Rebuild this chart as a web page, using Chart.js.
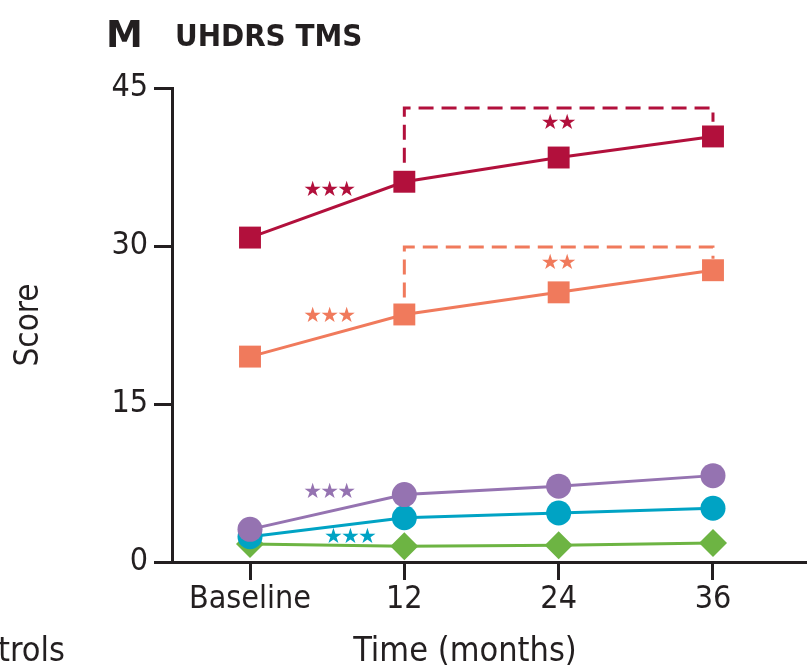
<!DOCTYPE html>
<html>
<head>
<meta charset="utf-8">
<script src="https://cdn.jsdelivr.net/npm/chart.js@4"></script>
<style>
  html, body { margin: 0; padding: 0; background: #fff; overflow: hidden; }
  #wrap { width: 807px; height: 671px; position: relative; }
  canvas { display: block; }
</style>
</head>
<body>
<div id="wrap"><canvas id="tmsChart"></canvas></div>
<script>
// time points (months) and their axis labels
const months = [0, 12, 24, 36];
const xLabels = ['Baseline', '12', '24', '36'];
const yTicks = [0, 15, 30, 45];

// UHDRS TMS scores per group
const groupA = [30.8, 36.1, 38.4, 40.4];   // dark red squares
const groupB = [19.5, 23.5, 25.6, 27.7];   // salmon squares
const groupC = [3.1, 6.4, 7.2, 8.2];       // purple circles
const groupD = [2.4, 4.2, 4.65, 5.1];      // teal circles
const controls = [1.7, 1.5, 1.6, 1.8];     // green diamonds

// dashed significance brackets (month, score)
const bracketAx = [12, 12, 36, 36];
const bracketAy = [37.9, 43.1, 43.1, 41.8];
const bracketBx = [12, 12, 36, 36];
const bracketBy = [25.1, 29.9, 29.9, 28.8];

// significance stars: month, score, count
const starX = [6.2, 24, 6.2, 24, 6.2, 7.8];
const starY = [35.3, 41.6, 23.3, 28.3, 6.6, 2.3];
const starN = [3, 2, 3, 2, 3, 3];

const red = '#B2103C';
const salmon = '#F07A5C';
const purple = '#9573B1';
const teal = '#00A3C4';
const green = '#6DB443';
const ink = '#231F20';
const starColors = [red, red, salmon, salmon, purple, teal];

const cond = '"DejaVu Sans Condensed", "Liberation Sans Narrow", sans-serif';

function pts(xs, ys) {
    return xs.map((x, i) => ({ x: x, y: ys[i] }));
}

function series(values, color, style, radius) {
    return {
        data: pts(months, values),
        borderColor: color,
        backgroundColor: color,
        borderWidth: 3,
        pointStyle: style,
        pointRadius: radius,
        pointHoverRadius: radius,
        pointBorderWidth: 0,
        tension: 0
    };
}

function bracket(xs, ys, color) {
    return {
        data: pts(xs, ys),
        borderColor: color,
        borderWidth: 3,
        borderDash: [15, 8],
        pointRadius: 0,
        fill: false
    };
}

// extra text: panel title, stars, x title, cut legend
const textPlugin = {
    id: 'textPlugin',
    afterDatasetsDraw(chart) {
        const ctx = chart.ctx;
        const xs = chart.scales.x, ys = chart.scales.y;
        ctx.save();
        ctx.textAlign = 'center';
        ctx.textBaseline = 'middle';
        ctx.font = '21px "DejaVu Sans", sans-serif';
        starX.forEach((mx, i) => {
            const cx = xs.getPixelForValue(mx);
            const cy = ys.getPixelForValue(starY[i]);
            ctx.fillStyle = starColors[i];
            for (let k = 0; k < starN[i]; k++) {
                ctx.fillText('\u2605', cx + (k - (starN[i] - 1) / 2) * 17, cy);
            }
        });
        ctx.restore();
    },
    afterDraw(chart) {
        const ctx = chart.ctx;
        ctx.save();
        ctx.fillStyle = ink;
        ctx.textBaseline = 'alphabetic';
        ctx.textAlign = 'left';
        ctx.font = 'bold 37px "DejaVu Sans", sans-serif';
        ctx.fillText('M', 106, 47);
        ctx.font = 'bold 31px ' + cond;
        ctx.fillText('UHDRS TMS', 175, 46);
        ctx.font = '34px ' + cond;
        ctx.fillText('trols', -2, 661);
        ctx.textAlign = 'center';
        ctx.fillText('Time (months)', 465, 661);
        ctx.restore();
    }
};

const ctx = document.getElementById('tmsChart').getContext('2d');
const tmsChart = new Chart(ctx, {
    type: 'line',
    data: {
        datasets: [
            series(groupA, red, 'rect', 15.5),
            series(groupB, salmon, 'rect', 15.5),
            series(groupC, purple, 'circle', 12.5),
            series(groupD, teal, 'circle', 12.5),
            series(controls, green, 'rectRot', 14),
            bracket(bracketAx, bracketAy, red),
            bracket(bracketBx, bracketBy, salmon)
        ]
    },
    options: {
        responsive: true,
        maintainAspectRatio: false,
        animation: false,
        layout: {
            autoPadding: false,
            padding: { top: 88, right: 0, bottom: 0, left: 0 }
        },
        plugins: {
            legend: { display: false },
            title: { display: false },
            tooltip: { enabled: false }
        },
        scales: {
            x: {
                type: 'linear',
                min: -6.065,
                max: 43.31,
                afterBuildTicks(scale) {
                    scale.ticks = months.map(v => ({ value: v }));
                },
                afterFit(scale) {
                    scale.height = 109;
                    scale.paddingLeft = 0;
                    scale.paddingRight = 0;
                },
                ticks: {
                    color: ink,
                    font: { family: cond, size: 32 },
                    padding: 0,
                    maxRotation: 0,
                    autoSkip: false,
                    callback: (v) => xLabels[months.indexOf(v)]
                },
                grid: {
                    drawOnChartArea: false,
                    tickLength: 18,
                    tickWidth: 3,
                    tickColor: ink
                },
                border: { display: true, color: ink, width: 3 }
            },
            y: {
                min: 0,
                max: 45,
                afterBuildTicks(scale) {
                    scale.ticks = yTicks.map(v => ({ value: v }));
                },
                afterFit(scale) {
                    scale.width = 172;
                    scale.paddingTop = 0;
                    scale.paddingBottom = 0;
                },
                ticks: {
                    color: ink,
                    font: { family: cond, size: 32 },
                    padding: 6
                },
                grid: {
                    drawOnChartArea: false,
                    tickLength: 18,
                    tickWidth: 3,
                    tickColor: ink
                },
                border: { display: true, color: ink, width: 3 },
                title: {
                    display: true,
                    text: 'Score',
                    color: ink,
                    font: { family: cond, size: 33 },
                    padding: { top: 10, bottom: 0 }
                }
            }
        }
    },
    plugins: [textPlugin]
});
</script>
</body>
</html>
